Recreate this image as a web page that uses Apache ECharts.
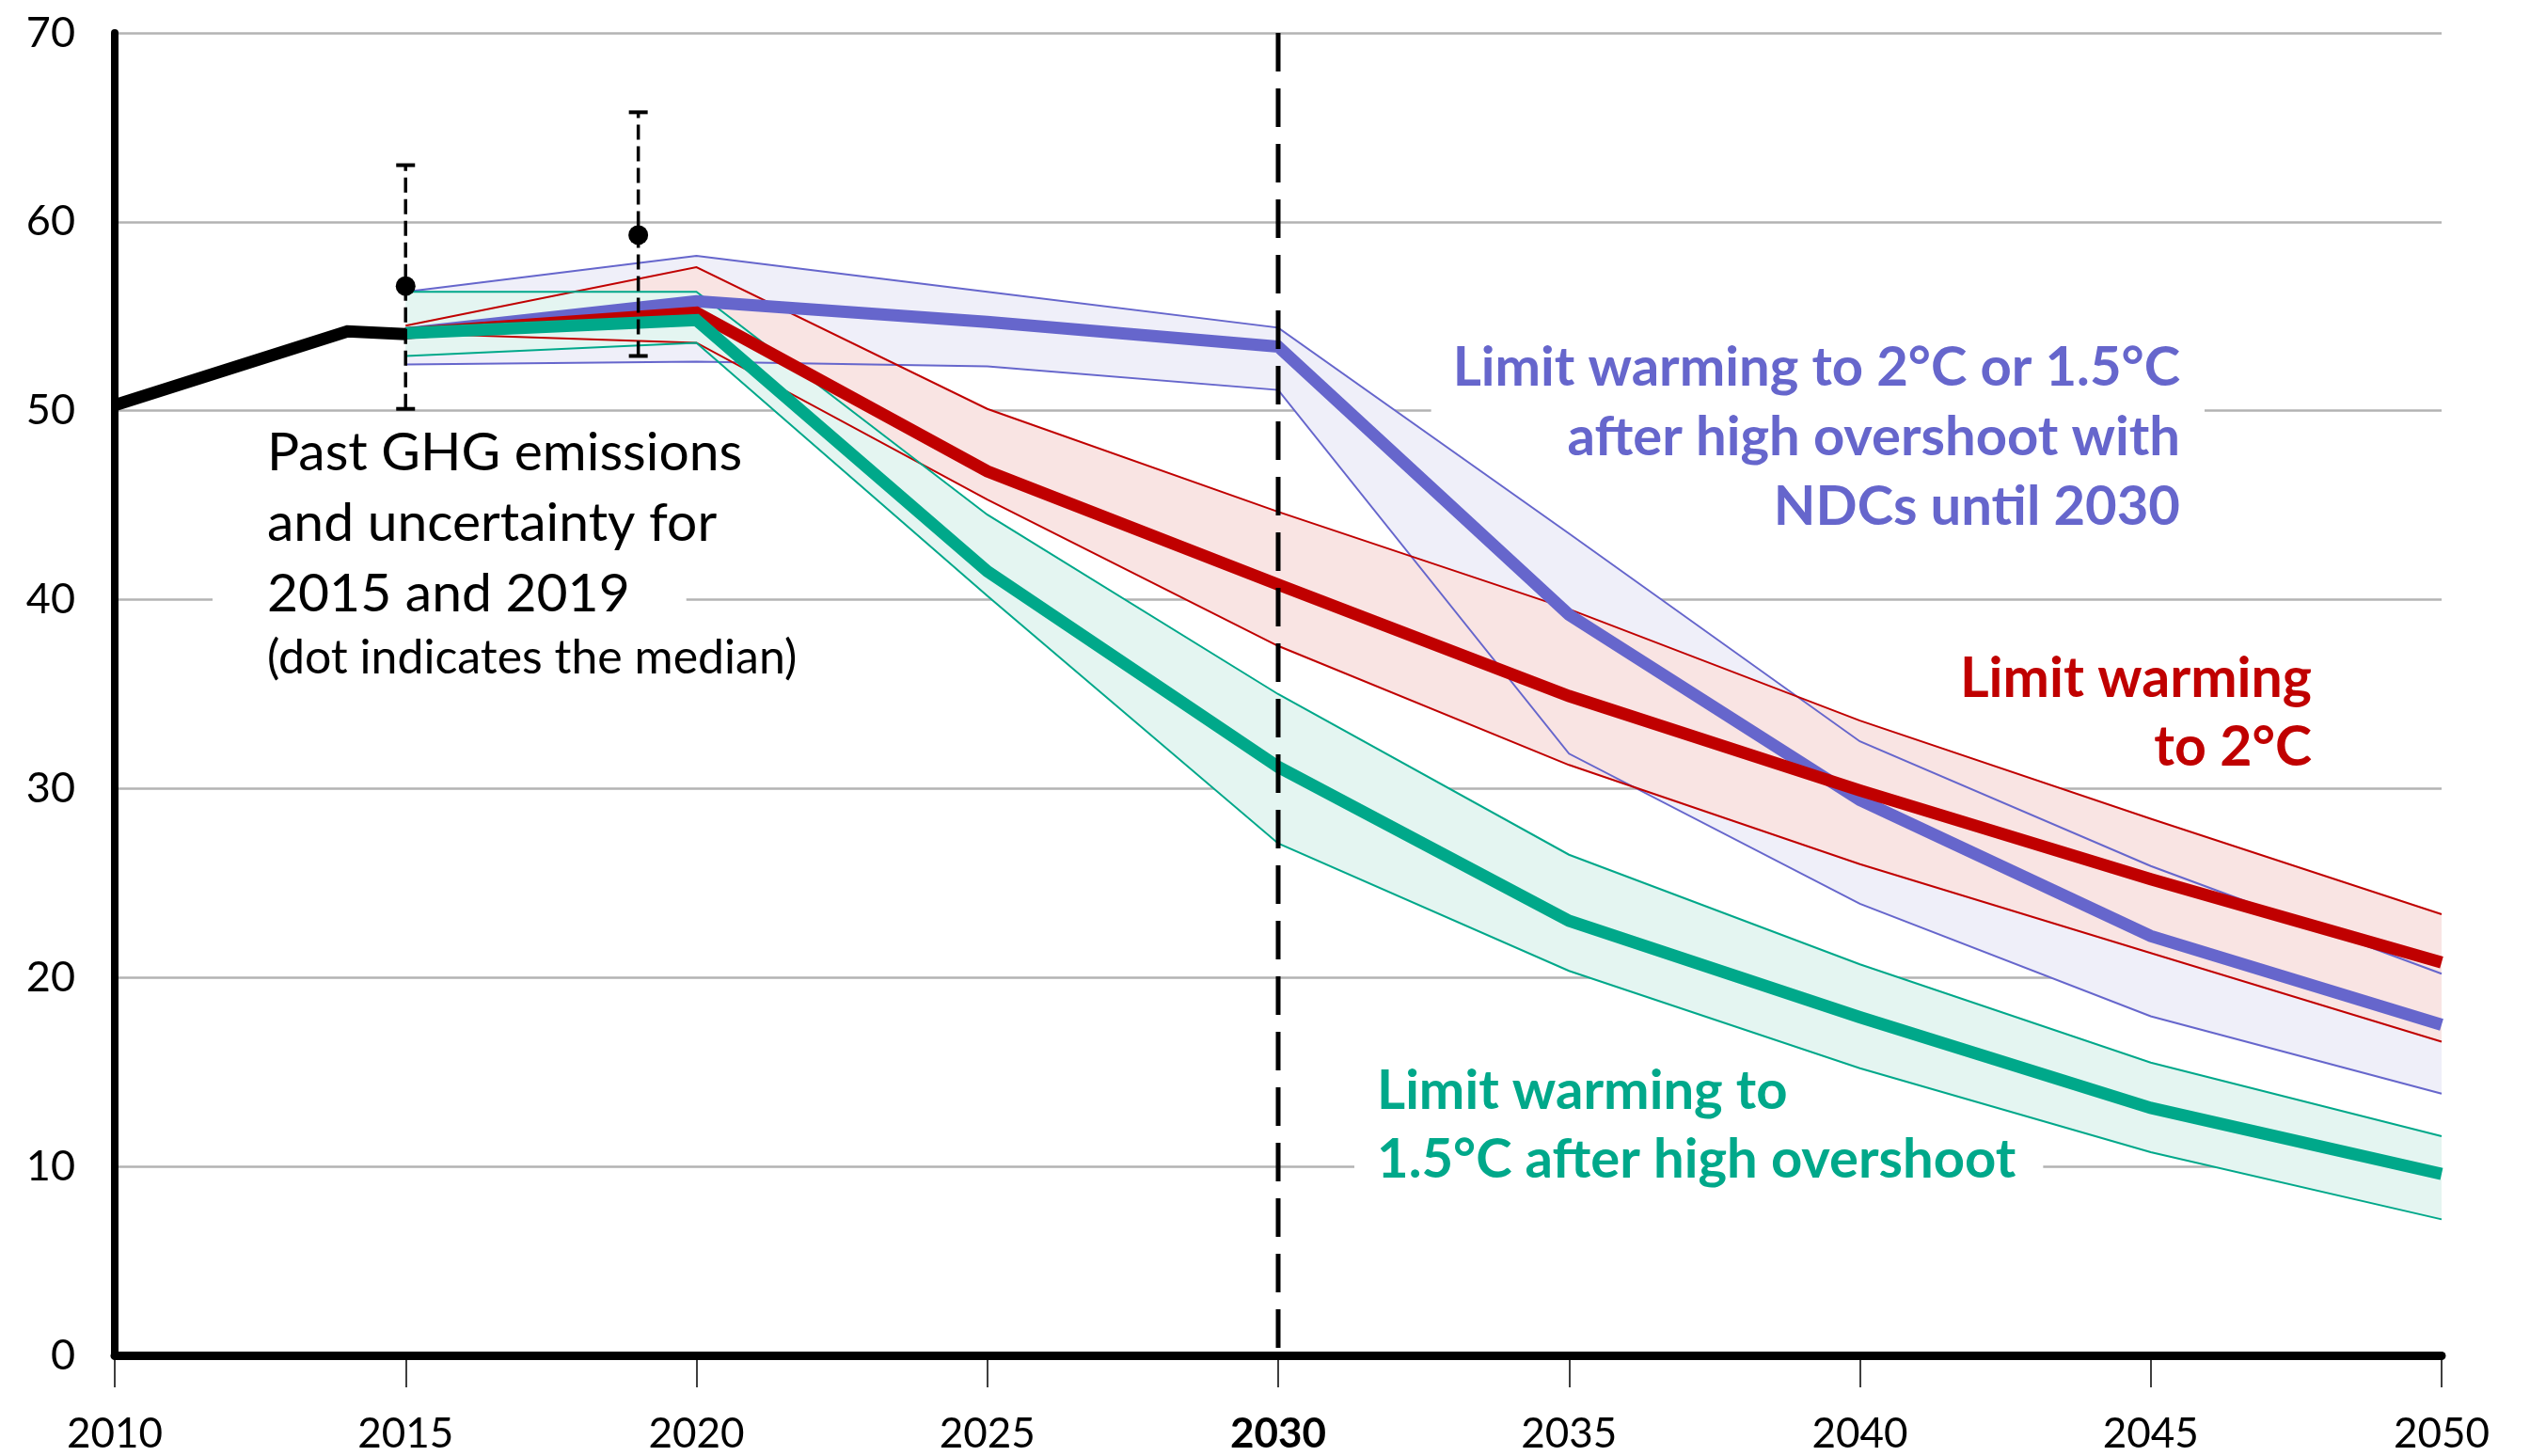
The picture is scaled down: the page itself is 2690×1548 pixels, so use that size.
<!DOCTYPE html>
<html>
<head>
<meta charset="utf-8">
<title>GHG emission pathways</title>
<script src="https://cdn.jsdelivr.net/npm/echarts@6/dist/echarts.min.js"></script>
<style>
  html, body { margin: 0; padding: 0; background: #fff; }
  #chart { width: 2690px; height: 1548px; }
</style>
</head>
<body>
<div id="chart"></div>
<script>
// Years shared by every scenario pathway
const years = [2015, 2020, 2025, 2030, 2035, 2040, 2045, 2050];

// Historical emissions (GtCO2-eq/yr)
const histYears = [2010, 2014, 2015];
const histValues = [50.3, 54.2, 54.05];

// Uncertainty ranges of past emissions with their medians
const errYears = [2015, 2019];
const errMedian = [56.6, 59.3];
const errLow = [50.1, 52.9];
const errHigh = [63.0, 65.8];

// Limit warming to 2°C or 1.5°C after high overshoot with NDCs until 2030
const ndcUpper = [56.3, 58.2, 56.3, 54.4, 43.5, 32.5, 25.9, 20.2];
const ndcMedian = [54.1, 55.8, 54.7, 53.4, 39.2, 29.4, 22.2, 17.5];
const ndcLower = [52.45, 52.6, 52.35, 51.1, 31.85, 23.9, 17.95, 13.85];

// Limit warming to 2°C
const c2Upper = [54.5, 57.6, 50.1, 44.65, 39.5, 33.6, 28.4, 23.35];
const c2Median = [54.1, 55.2, 46.8, 40.8, 34.9, 29.9, 25.2, 20.8];
const c2Lower = [54.1, 53.6, 45.3, 37.55, 31.25, 26.0, 21.3, 16.6];

// Limit warming to 1.5°C after high overshoot
const c15Upper = [56.3, 56.3, 44.5, 35.0, 26.5, 20.7, 15.5, 11.6];
const c15Median = [54.1, 54.8, 41.5, 31.15, 23.0, 17.9, 13.1, 9.6];
const c15Lower = [52.9, 53.6, 40.2, 27.1, 20.35, 15.2, 10.75, 7.2];

// Axis ticks
const xTicks = { min: 2010, max: 2050, step: 5 };
const yTicks = { min: 0, max: 70, step: 10 };
const markYear = 2030;

const BLUE = '#6666cc', RED = '#c00000', GREEN = '#00a88a';
const BLUE_FILL = '#efeff9', RED_FILL = '#f9e4e3', GREEN_FILL = '#e4f5f1';
const FONT = 'Lato, "Noto Sans", sans-serif';

const pairs = (xs, ys) => xs.map((x, i) => [x, ys[i]]);

// Shaded range between lower and upper, drawn as one polygon through the axis scales
function band(id, lower, upper, fill) {
  return {
    type: 'custom', name: id + '-range', z: 3, silent: true,
    data: years.map((y, i) => [y, lower[i], upper[i]]),
    encode: { x: 0, y: [1, 2] },
    renderItem: (params, api) => {
      if (params.dataIndex !== 0) return null;
      const top = years.map((y, i) => api.coord([y, upper[i]]));
      const bottom = years.map((y, i) => api.coord([y, lower[i]])).reverse();
      return {
        type: 'polygon',
        shape: { points: top.concat(bottom) },
        style: { fill: fill, stroke: null }
      };
    }
  };
}

function path(name, values, color, width, xs) {
  return {
    type: 'line', name, z: 3, silent: true,
    data: pairs(xs || years, values), symbol: 'none',
    lineStyle: { color, width, cap: 'butt', join: 'miter' }
  };
}

const series = [
  band('ndc', ndcLower, ndcUpper, BLUE_FILL),
  band('c2', c2Lower, c2Upper, RED_FILL),
  band('c15', c15Lower, c15Upper, GREEN_FILL),
  path('ndc-upper', ndcUpper, BLUE, 2),
  path('ndc-lower', ndcLower, BLUE, 2),
  path('c2-upper', c2Upper, RED, 2),
  path('c2-lower', c2Lower, RED, 2),
  path('c15-upper', c15Upper, GREEN, 2),
  path('c15-lower', c15Lower, GREEN, 2),
  path('ndc-median', ndcMedian, BLUE, 13),
  path('c2-median', c2Median, RED, 13),
  path('c15-median', c15Median, GREEN, 13),
  path('history', histValues, '#000', 13, histYears)
];

// Uncertainty whiskers with end caps
errYears.forEach((yr, i) => {
  series.push({
    type: 'line', name: 'range-' + yr, z: 4, silent: true,
    data: [[yr, errLow[i]], [yr, errHigh[i]]],
    symbol: 'rect', symbolSize: [20, 4], showSymbol: true,
    itemStyle: { color: '#000', opacity: 1 },
    lineStyle: { color: '#000', width: 3.5, type: [16, 7] }
  });
});
series.push({
  type: 'scatter', name: 'median', z: 5, silent: true,
  data: pairs(errYears, errMedian), symbolSize: 21,
  itemStyle: { color: '#000', opacity: 1 }
});

// Dashed marker at 2030
series.push({
  type: 'line', name: 'year-2030', z: 5, silent: true,
  data: [[markYear, yTicks.max], [markYear, yTicks.min]], symbol: 'none',
  lineStyle: { color: '#000', width: 5, type: [41, 18] }
});

const chart = echarts.init(document.getElementById('chart'), null, { renderer: 'canvas' });

chart.setOption({
  animation: false,
  backgroundColor: '#fff',
  grid: { left: 122, right: 94, top: 35, bottom: 107, containLabel: false },
  xAxis: {
    type: 'value', min: xTicks.min, max: xTicks.max, interval: xTicks.step,
    offset: 4,
    axisLine: { show: true, lineStyle: { color: '#000', width: 9 } },
    axisTick: { show: true, length: 34, lineStyle: { color: '#000', width: 1.5 } },
    splitLine: { show: false },
    axisLabel: {
      margin: 58, fontSize: 44, fontFamily: FONT, color: '#000',
      formatter: v => v === markYear ? '{b|' + v + '}' : String(v),
      rich: { b: { fontSize: 44, fontFamily: FONT, fontWeight: 'bold', color: '#000' } }
    }
  },
  yAxis: {
    type: 'value', min: yTicks.min, max: yTicks.max, interval: yTicks.step,
    axisLine: { show: true, lineStyle: { color: '#000', width: 8 } },
    axisTick: { show: false },
    splitLine: { show: true, lineStyle: { color: '#b3b3b3', width: 2.5 } },
    axisLabel: { margin: 42, fontSize: 45, fontFamily: FONT, color: '#000' }
  },
  graphic: {
    z: 1,
    elements: [
      { type: 'text', z: 1, silent: true,
        style: { text: 'Past GHG emissions', x: 284, y: 482, fontSize: 57, fontFamily: FONT,
                 fill: '#000', align: 'left', verticalAlign: 'middle' } },
      { type: 'text', z: 1, silent: true,
        style: { text: 'and uncertainty for', x: 284, y: 557, fontSize: 57, fontFamily: FONT,
                 fill: '#000', align: 'left', verticalAlign: 'middle' } },
      { type: 'text', z: 1, silent: true,
        style: { text: '2015 and 2019', x: 226, y: 632, fontSize: 57, fontFamily: FONT,
                 fill: '#000', align: 'left', verticalAlign: 'middle',
                 backgroundColor: '#fff', padding: [0, 60, 0, 58] } },
      { type: 'text', z: 1, silent: true,
        style: { text: '(dot indicates the median)', x: 284, y: 700, fontSize: 50, fontFamily: FONT,
                 fill: '#000', align: 'left', verticalAlign: 'middle' } },
      { type: 'text', z: 1, silent: true,
        style: { text: 'Limit warming to 2°C or 1.5°C\nafter high overshoot with\nNDCs until 2030',
                 x: 2344, y: 465, fontSize: 58, fontFamily: FONT, fontWeight: 'bold', lineHeight: 74,
                 fill: BLUE, align: 'right', verticalAlign: 'middle',
                 backgroundColor: '#fff', padding: [0, 26, 0, 23] } },
      { type: 'text', z: 1, silent: true,
        style: { text: 'Limit warming\nto 2°C', x: 2458, y: 758, fontSize: 59, fontFamily: FONT,
                 fontWeight: 'bold', lineHeight: 73, fill: RED, align: 'right', verticalAlign: 'middle' } },
      { type: 'text', z: 1, silent: true,
        style: { text: 'Limit warming to\n1.5°C after high overshoot', x: 1440, y: 1197, fontSize: 58,
                 fontFamily: FONT, fontWeight: 'bold', lineHeight: 73, fill: GREEN,
                 align: 'left', verticalAlign: 'middle',
                 backgroundColor: '#fff', padding: [0, 29, 0, 24] } }
    ]
  },
  series
});
</script>
</body>
</html>
